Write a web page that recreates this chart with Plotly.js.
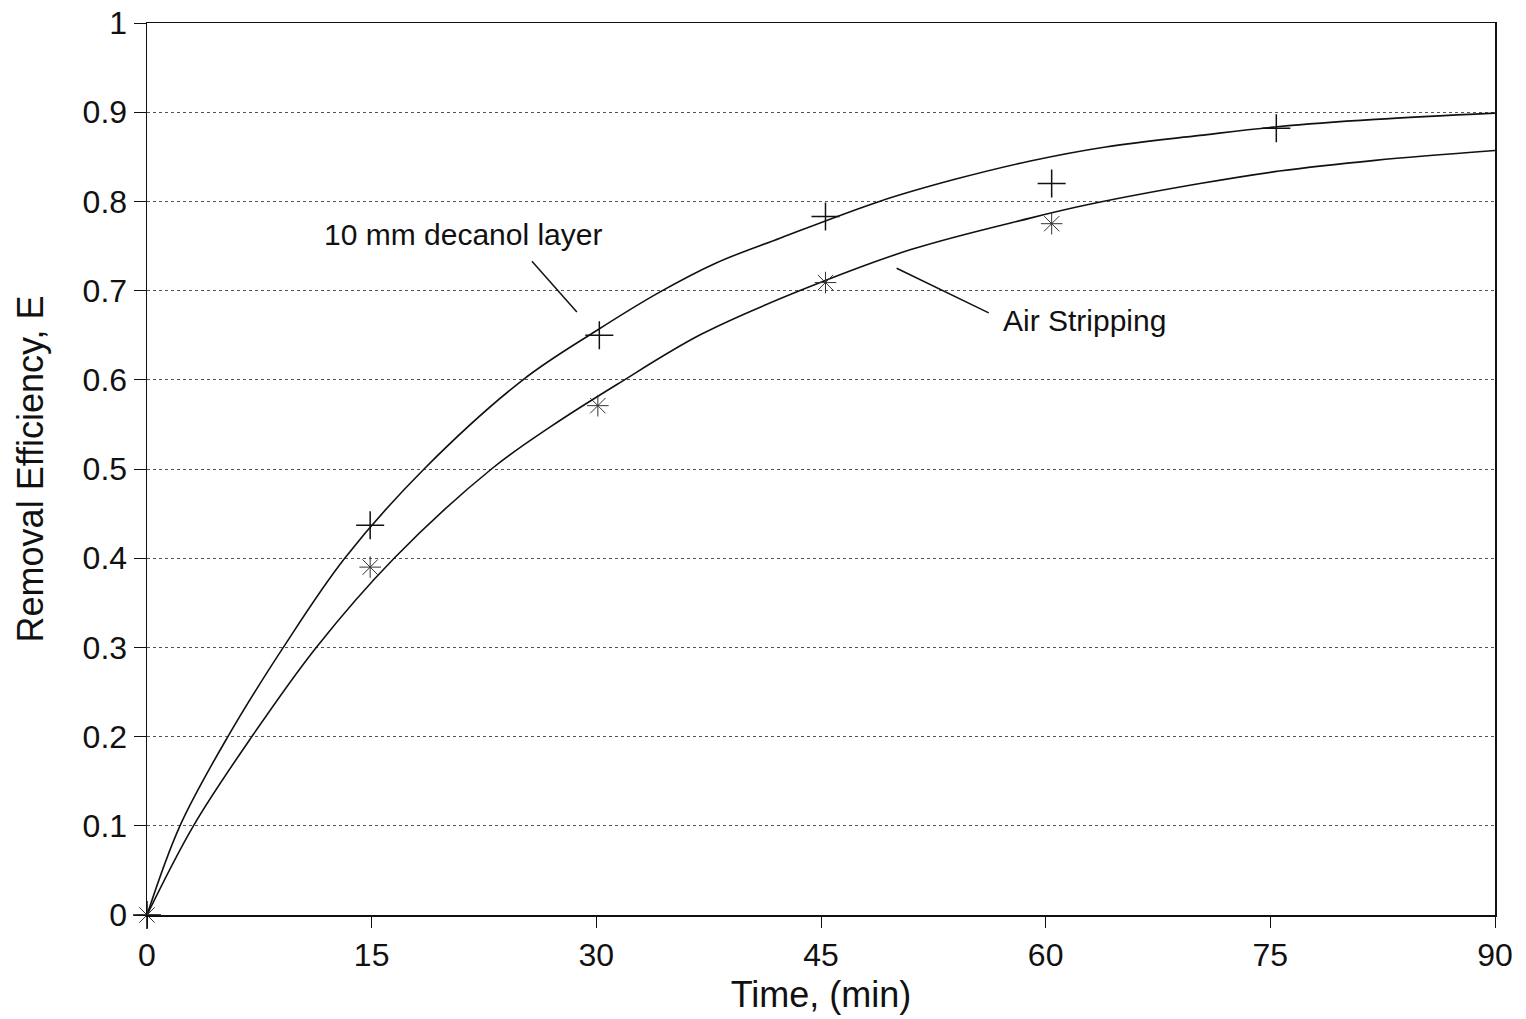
<!DOCTYPE html>
<html>
<head>
<meta charset="utf-8">
<script src="https://cdn.plot.ly/plotly-3.0.1.min.js"></script>
<style>html,body{margin:0;padding:0;background:#fff;}#chart{width:1526px;height:1019px;}</style>
</head>
<body>
<div id="chart"></div>
<script>
// Measured data points
const decanolTime = [0, 14.9, 30.2, 45.3, 60.4, 75.4];
const decanolE    = [0, 0.437, 0.650, 0.783, 0.820, 0.882];
const airTime     = [0, 14.9, 30.1, 45.3, 60.4];
const airE        = [0, 0.390, 0.571, 0.709, 0.775];

// Fitted curves
const decanolCurveT = [0, 2.2, 5.4, 9.1, 13.2, 18.5, 25.1, 30.0, 34.2, 38.0, 42.3, 48.9, 54.0, 58.9, 64.0, 70.3, 75.6, 82.0, 90];
const decanolCurveE = [0, 0.1, 0.2, 0.3, 0.4, 0.5, 0.6, 0.655, 0.698, 0.731, 0.759, 0.8, 0.825, 0.845, 0.861, 0.874, 0.884, 0.892, 0.899];
const airCurveT = [0, 3.1, 7.0, 11.3, 16.5, 23.0, 27.0, 31.4, 37.0, 43.6, 51.0, 58.9, 63.0, 70.3, 75.6, 82.0, 90];
const airCurveE = [0, 0.1, 0.2, 0.3, 0.4, 0.5, 0.548, 0.595, 0.651, 0.700, 0.746, 0.781, 0.797, 0.820, 0.834, 0.846, 0.857];

const xTicks = [0, 15, 30, 45, 60, 75, 90];
const yTicks = [0, 0.1, 0.2, 0.3, 0.4, 0.5, 0.6, 0.7, 0.8, 0.9, 1];
const yTickText = ["0", "0.1", "0.2", "0.3", "0.4", "0.5", "0.6", "0.7", "0.8", "0.9", "1"];

const FONT = "Liberation Sans, Arial, Helvetica, sans-serif";

const traces = [
  {x: decanolCurveT, y: decanolCurveE, mode: "lines", line: {color: "#111", width: 1.6, shape: "spline", smoothing: 1.0}, hoverinfo: "skip"},
  {x: airCurveT, y: airCurveE, mode: "lines", line: {color: "#111", width: 1.6, shape: "spline", smoothing: 1.0}, hoverinfo: "skip"},
  {x: decanolTime, y: decanolE, mode: "markers", cliponaxis: false,
   marker: {symbol: "cross-thin", size: 20, color: "#111", line: {color: "#111", width: 1.5}}},
  {x: airTime, y: airE, mode: "markers", cliponaxis: false,
   marker: {symbol: "asterisk-open", size: 18, color: "#333", line: {color: "#333", width: 1}}}
];

const layout = {
  width: 1526, height: 1019,
  margin: {l: 147, r: 31, t: 23, b: 104},
  paper_bgcolor: "#fff", plot_bgcolor: "#fff",
  showlegend: false,
  font: {family: FONT, color: "#111"},
  xaxis: {
    range: [0, 90], tickvals: xTicks, ticks: "outside", ticklen: 11, tickwidth: 1, tickcolor: "#111",
    showline: true, linecolor: "#111", linewidth: 1.5, mirror: true,
    showgrid: false, zeroline: false,
    tickfont: {family: FONT, size: 32, color: "#111"},
    title: {text: "Time, (min)", font: {family: FONT, size: 36, color: "#111"}, standoff: 10}
  },
  yaxis: {
    range: [0, 1], tickvals: yTicks, ticktext: yTickText, ticks: "outside", ticklen: 12, tickwidth: 1, tickcolor: "#111",
    showline: true, linecolor: "#111", linewidth: 1.5, mirror: true,
    showgrid: true, gridcolor: "#555", gridwidth: 1, griddash: "dot",
    zeroline: false,
    tickfont: {family: FONT, size: 32, color: "#111"},
    title: {text: "Removal Efficiency, E", font: {family: FONT, size: 36, color: "#111"}, standoff: 28}
  },
  shapes: [
    {type: "line", xref: "x", yref: "y", x0: 25.7, y0: 0.733, x1: 28.7, y1: 0.676, line: {color: "#111", width: 1.5}},
    {type: "line", xref: "x", yref: "y", x0: 50.05, y0: 0.725, x1: 56.2, y1: 0.675, line: {color: "#111", width: 1.5}}
  ],
  annotations: [
    {x: 21.1, y: 0.763, xref: "x", yref: "y", text: "10 mm decanol layer", showarrow: false,
     font: {family: FONT, size: 30, color: "#111"}},
    {x: 62.6, y: 0.666, xref: "x", yref: "y", text: "Air Stripping", showarrow: false,
     font: {family: FONT, size: 30, color: "#111"}}
  ]
};

Plotly.newPlot("chart", traces, layout, {displayModeBar: false, staticPlot: true});
</script>
</body>
</html>
